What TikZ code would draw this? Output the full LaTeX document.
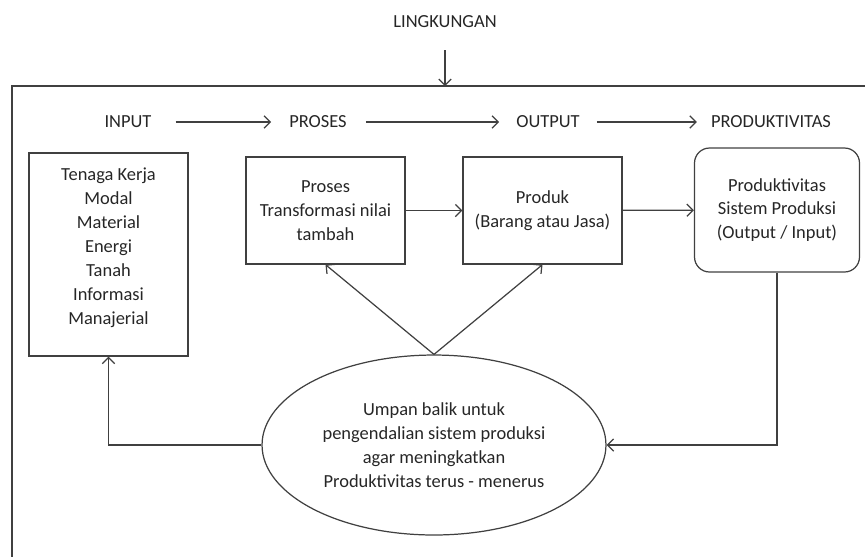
\documentclass[tikz,border=0pt]{standalone}
\usepackage{fontspec}
\setmainfont{Carlito}
\usetikzlibrary{arrows.meta,shapes.geometric}

\tikzset{
  line/.style={draw=black!75, line width=0.7pt},
  arr/.style={line, -{Straight Barb[length=3.5pt,width=7pt]}},
  box/.style={line, rectangle, align=center, inner sep=0pt},
  head/.style={text=black!85}
}

\begin{document}
\begin{tikzpicture}[x=0.02cm, y=-0.02cm, font=\fontsize{10.5}{13.6}\selectfont, text=black!85]
  \useasboundingbox (0,0) rectangle (865,556);

  % environment frame
  \draw[line] (12,570) -- (12,86) -- (880,86);
  \coordinate (env) at (445,86);
  \node[head] (ling) at (445,22) {LINGKUNGAN};
  \draw[arr, shorten <=9pt] (ling) -- (env);

  % header row
  \node[head] (hin) at (128,122) {INPUT};
  \node[head] (hpr) at (318,122) {PROSES};
  \node[head] (hout) at (548,122) {OUTPUT};
  \node[head] (hprod) at (771,122) {PRODUKTIVITAS};
  \draw[arr, shorten <=0.36cm, shorten >=0.24cm] (hin) -- (hpr);
  \draw[arr, shorten <=0.26cm, shorten >=0.22cm] (hpr) -- (hout);
  \draw[arr, shorten <=0.22cm, shorten >=0.16cm] (hout) -- (hprod);

  % boxes
  \node[box, minimum width=3.18cm, minimum height=4.06cm] (inp) at (108.5,254.5)
    {Tenaga Kerja\\Modal\\Material\\Energi\\Tanah\\Informasi\\Manajerial\\[-4pt]};
  \node[box, minimum width=3.18cm, minimum height=2.14cm] (proc) at (325.5,210.5)
    {Proses\\Transformasi nilai\\tambah};
  \node[box, minimum width=3.18cm, minimum height=2.14cm] (prod) at (542.5,210.5)
    {Produk\\(Barang atau Jasa)};
  \node[box, rounded corners=0.3cm, minimum width=3.3cm, minimum height=2.48cm] (prd) at (777,210)
    {Produktivitas\\Sistem Produksi\\(Output / Input)};

  % feedback
  \node[line, ellipse, inner sep=0pt, minimum width=6.88cm, minimum height=3.6cm, align=center] (fb) at (434,445)
    {Umpan balik untuk\\pengendalian sistem produksi\\agar meningkatkan\\Produktivitas terus - menerus};

  \draw[arr] (proc) -- (prod);
  \draw[arr] (prod) -- (prd);
  \draw[arr] (fb.north) -- (proc.south);
  \draw[arr] (fb.north) -- (prod.south);
  \draw[arr] (fb.west) -| (inp.south);
  \draw[arr] (prd.south) |- (fb.east);
\end{tikzpicture}
\end{document}
